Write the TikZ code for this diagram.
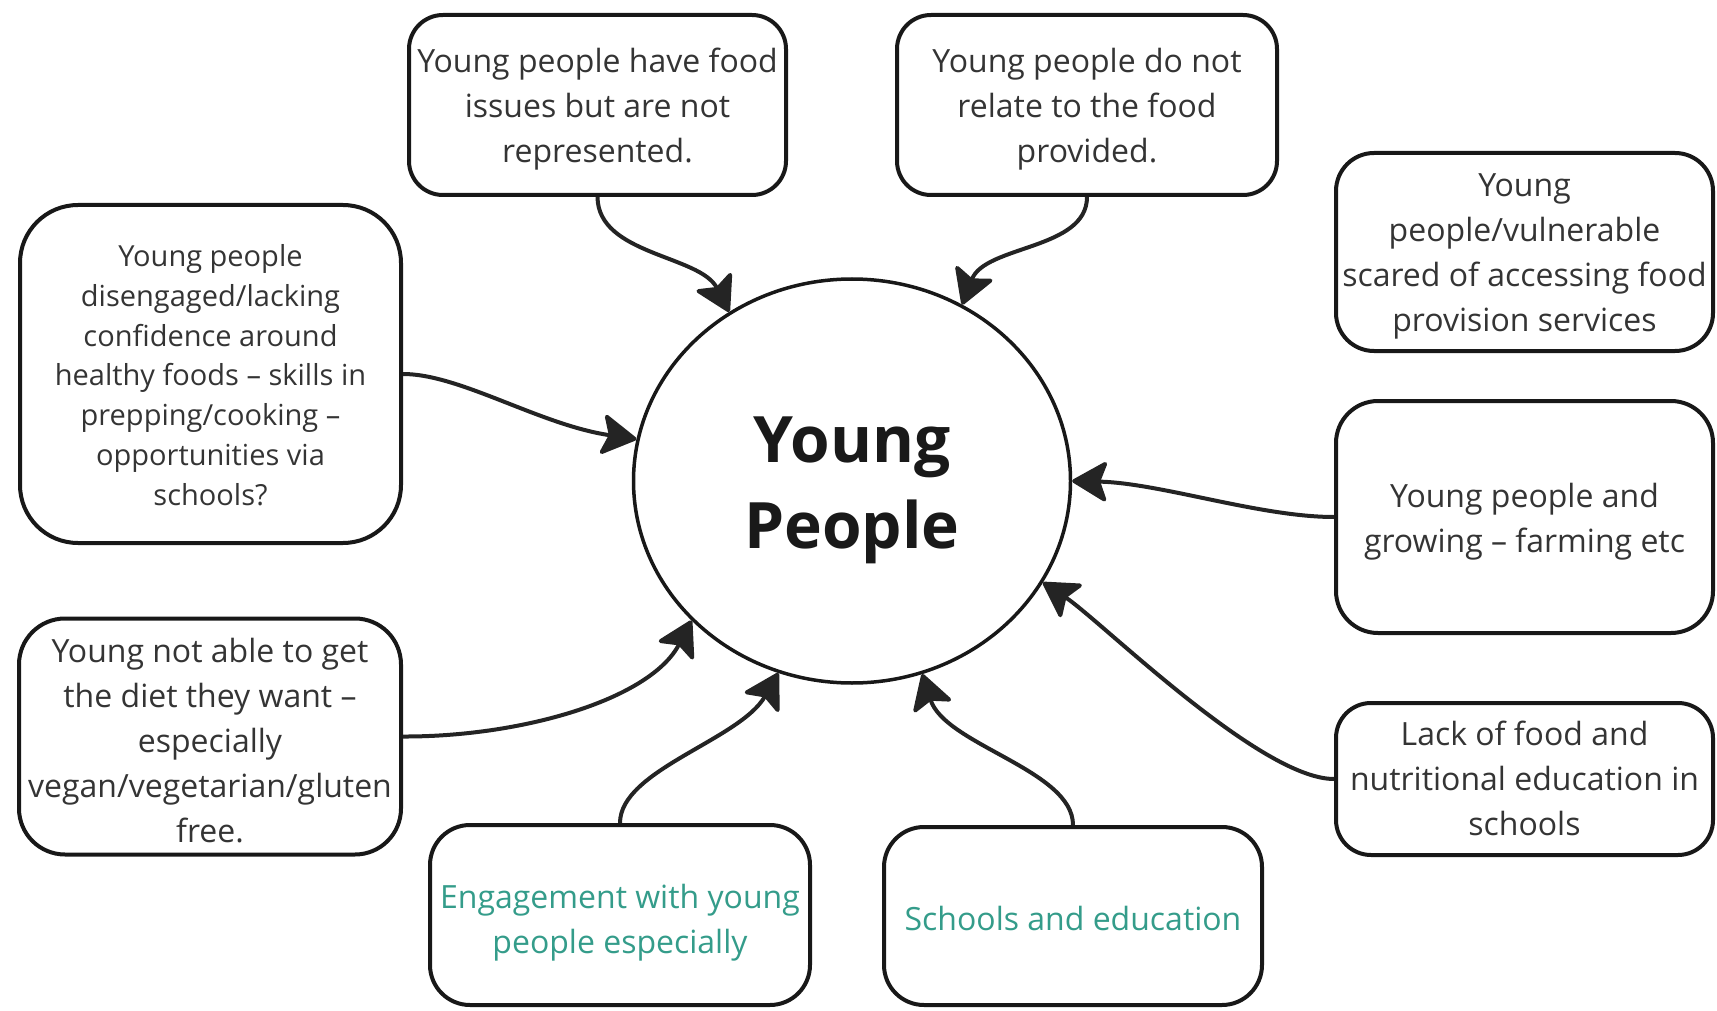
\documentclass[tikz,border=0pt]{standalone}
\usepackage{fontspec}
\setmainfont{Open Sans}
\usetikzlibrary{arrows.meta,shapes.geometric}
\definecolor{linec}{RGB}{36,36,36}
\definecolor{boxc}{RGB}{24,24,24}
\definecolor{txtc}{RGB}{52,52,52}
\definecolor{tealtxt}{RGB}{52,156,138}
\begin{document}
\begin{tikzpicture}[x=1pt,y=-1pt,
  box/.style={draw=boxc, line width=4pt, rounded corners=#1, inner sep=0pt},
  box/.default=40pt,
  btxt/.style={inner sep=0pt, align=center, text=txtc, font=\fontsize{32}{45}\selectfont},
  conn/.style={draw=linec, line width=4pt,
    -{Stealth[length=38pt,width=44pt,inset=8pt,round]}},
  hub/.style={ellipse, draw=boxc, line width=3.5pt, inner sep=0pt,
    minimum width=437pt, minimum height=404pt},
]
\useasboundingbox (0,0) rectangle (1717,1011);

\node[hub] (yp) at (852,481) {};
\node[font=\fontsize{64}{86}\selectfont\bfseries, align=center, text={rgb,255:red,25;green,25;blue,25}] (yptxt) at (852,490) {Young\\People};

\node[box=34pt, minimum width=377pt, minimum height=180pt] (A) at (597.5,105) {};
\node[btxt] (At) at ([yshift=-4.5pt]A.center) {Young people have food\\issues but are not\\represented.};
\node[box=34pt, minimum width=380pt, minimum height=180pt] (B) at (1087,105) {};
\node[btxt] (Bt) at ([yshift=-4.5pt]B.center) {Young people do not\\relate to the food\\provided.};
\node[box=38pt, minimum width=377pt, minimum height=198pt] (C) at (1524.5,252) {};
\node[btxt] (Ct) at ([yshift=-4.5pt]C.center) {Young\\people/vulnerable\\scared of accessing food\\provision services};
\node[box=42pt, minimum width=377pt, minimum height=232pt] (D) at (1524.5,517) {};
\node[btxt] (Dt) at ([yshift=-4.5pt]D.center) {Young people and\\growing -- farming etc};
\node[box=35pt, minimum width=377pt, minimum height=152pt] (E) at (1524.5,779) {};
\node[btxt] (Et) at ([yshift=0.5pt]E.center) {Lack of food and\\nutritional education in\\schools};
\node[box=58pt, minimum width=381pt, minimum height=338pt] (F) at (210.5,374) {};
\node[btxt, font=\fontsize{29}{39.8}\selectfont] (Ft) at ([yshift=-1pt]F.center) {Young people\\disengaged/lacking\\confidence around\\healthy foods -- skills in\\prepping/cooking --\\opportunities via\\schools?};
\node[box=46pt, minimum width=382pt, minimum height=236pt] (G) at (210,736.5) {};
\node[btxt] (Gt) at ([yshift=-4.5pt]G.center) {Young not able to get\\the diet they want --\\especially\\vegan/vegetarian/gluten\\free.};
\node[box=40pt, minimum width=380pt, minimum height=180pt] (H) at (620,915) {};
\node[btxt, text=tealtxt] (Ht) at ([yshift=-7.5pt]H.center) {Engagement with young\\people especially};
\node[box=40pt, minimum width=378pt, minimum height=178pt] (I) at (1073,916) {};
\node[btxt, text=tealtxt] (It) at ([yshift=-2pt]I.center) {Schools and education};

\draw[conn] (A.south) .. controls (598,255) and (700,255) .. (yp.126);
\draw[conn] (B.south) .. controls (1087,250) and (985,245) .. (yp.58);
\draw[conn] (F.east) .. controls (460,374) and (540,425) .. (yp.169);
\draw[conn] (D.west) .. controls (1260,517) and (1160,483) .. (yp.-0.5);
\draw[conn] (E.west) .. controls (1260,779) and (1100,620) .. (yp.-28.5);
\draw[conn] (G.east) .. controls (520,737) and (650,700) .. (yp.221.4);
\draw[conn] (H.north) .. controls (620,770) and (740,740) .. (yp.249.2);
\draw[conn] (I.north) .. controls (1073,770) and (945,745) .. (yp.-70.1);
\end{tikzpicture}
\end{document}
